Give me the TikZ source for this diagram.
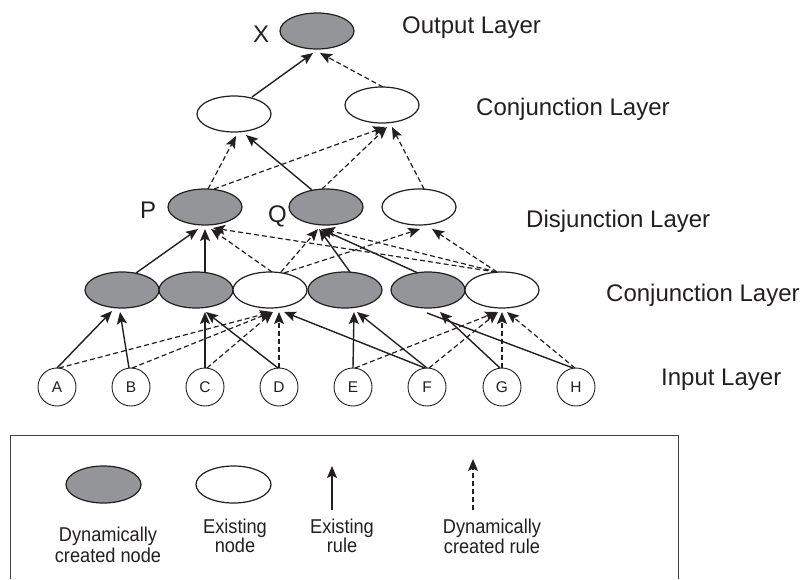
\documentclass[tikz,border=0pt]{standalone}
\usepackage{fontspec}
\setmainfont{Liberation Sans}
\newfontfamily\legendfont{Liberation Sans}[FakeStretch=0.91]
\usetikzlibrary{shapes.geometric,arrows.meta,calc}
\definecolor{ink}{RGB}{35,31,32}
\definecolor{nodegray}{RGB}{147,149,152}

\begin{document}
\begin{tikzpicture}[x=1pt,y=-1pt,
  ov/.style={ellipse,draw=ink,line width=1.2pt,minimum width=74pt,minimum height=36pt,inner sep=0pt},
  dyn/.style={ov,fill=nodegray},
  old/.style={ov,fill=white},
  inp/.style={circle,draw=ink,line width=0.9pt,minimum size=38pt,inner sep=0pt,
              font=\fontsize{15.5}{18}\selectfont,text=ink},
  tip/.style={-{Stealth[length=12pt,width=10pt,inset=2.5pt]}},
  oldrule/.style={draw=ink,line width=1.4pt,tip},
  newrule/.style={draw=ink,line width=1.2pt,dash pattern=on 5pt off 3pt,tip},
  plainrule/.style={draw=ink,line width=1.4pt},
  layer/.style={anchor=base west,font=\fontsize{24}{28}\selectfont,text=ink,inner sep=0pt},
  legtext/.style={anchor=base,font=\legendfont\fontsize{20}{24}\selectfont,text=ink,inner sep=0pt}
]
\useasboundingbox (0,0) rectangle (801,579);

% ---------- nodes ----------
\node[dyn] (X)  at (317,31)  {};
\node[old] (L1) at (234,114) {};
\node[old] (L2) at (382,105) {};
\node[dyn] (P)  at (205,207) {};
\node[dyn] (Q)  at (326,207) {};
\node[old] (R)  at (419,207) {};
\node[dyn] (C1) at (122,290) {};
\node[dyn] (C2) at (196,290) {};
\node[old] (C3) at (270,290) {};
\node[dyn] (C4) at (345,290) {};
\node[dyn] (C5) at (428,290) {};
\node[old] (C6) at (502,290) {};
\node[inp] (iA) at (57,387)  {A};
\node[inp] (iB) at (131,387) {B};
\node[inp] (iC) at (205,387) {C};
\node[inp] (iD) at (279,387) {D};
\node[inp] (iE) at (353,387) {E};
\node[inp] (iF) at (427,387) {F};
\node[inp] (iG) at (502,387) {G};
\node[inp] (iH) at (576,387) {H};

% ---------- node names and layer titles ----------
\node[layer] (nX) at (253,42)  {X};
\node[layer] (nP) at (140,218) {P};
\node[layer] (nQ) at (268,222) {Q};
\node[layer] (tOut)   at (402,33)  {Output Layer};
\node[layer] (tConjA) at (476,115) {Conjunction Layer};
\node[layer] (tDis)   at (526,227) {Disjunction Layer};
\node[layer] (tConjB) at (606,301) {Conjunction Layer};
\node[layer] (tIn)    at (661,385) {Input Layer};

% ---------- output layer rules ----------
\draw[oldrule] ($(L1)+(18,-17)$) -- ($(X)+(-4,22)$);
\draw[newrule] ($(L2)+(1,-18)$)  -- ($(X)+(3,22)$);

% ---------- upper conjunction layer rules ----------
\draw[newrule] ($(P)+(3,-18)$)   -- ($(L1)+(2,22)$);
\draw[oldrule] ($(Q)+(-14,-17)$) -- ($(L1)+(12,21)$);
\draw[newrule] ($(P)+(9,-18)$)   -- ($(L2)+(3,22)$);
\draw[newrule] ($(Q)+(-4,-18)$)  -- ($(L2)+(5,22)$);
\draw[newrule] ($(R)+(5,-18)$)   -- ($(L2)+(10,22)$);

% ---------- disjunction layer rules ----------
\draw[oldrule] ($(C1)+(14,-17)$) -- ($(P)+(-7,22)$);
\draw[oldrule] ($(C2)+(9,-18)$)  -- ($(P)+(0,22)$);
\draw[newrule] ($(C3)+(2,-18)$)  -- ($(P)+(6,22)$);
\draw[newrule] ($(C6)+(-6,-18)$) -- ($(P)+(8,21)$);
\draw[newrule] ($(C3)+(11,-18)$) -- ($(Q)+(-8,22)$);
\draw[oldrule] ($(C4)+(5,-18)$)  -- ($(Q)+(-7,22)$);
\draw[oldrule] ($(C5)+(-10,-17)$) -- ($(Q)+(-5,22)$);
\draw[newrule] ($(C6)+(-5,-18)$) -- ($(Q)+(-3,22)$);
\draw[newrule] ($(C3)+(14,-17)$) -- ($(R)+(1,22)$);
\draw[newrule] ($(C6)+(-5,-18)$) -- ($(R)+(13,22)$);

% ---------- lower conjunction layer rules ----------
\draw[oldrule] ($(iA)+(0,-19)$)  -- ($(C1)+(-10,21)$);
\draw[oldrule] ($(iB)+(-2,-19)$) -- ($(C1)+(-2,22)$);
\draw[newrule] ($(iA)+(2,-19)$)  -- ($(C3)+(2,22)$);
\draw[newrule] ($(iB)+(1,-19)$)  -- ($(C3)+(2,22)$);
\draw[oldrule] ($(iC)+(0,-19)$)  -- ($(C2)+(9,22)$);
\draw[oldrule] ($(iD)+(-1,-19)$) -- ($(C2)+(10,22)$);
\draw[newrule] ($(iC)+(2,-19)$)  -- ($(C3)+(3,22)$);
\draw[newrule] ($(iD)+(0,-19)$)  -- ($(C3)+(9,22)$);
\draw[oldrule] ($(iF)+(-2,-19)$) -- ($(C3)+(14,22)$);
\draw[oldrule] ($(iE)+(0,-19)$)  -- ($(C4)+(9,22)$);
\draw[oldrule] ($(iF)+(0,-19)$)  -- ($(C4)+(12,22)$);
\draw[newrule] ($(iE)+(2,-19)$)  -- ($(C6)+(-5,22)$);
\draw[newrule] ($(iF)+(2,-19)$)  -- ($(C6)+(-4,22)$);
\draw[oldrule] ($(iG)+(-2,-19)$) -- ($(C5)+(12,22)$);
\draw[plainrule] ($(iH)+(-3,-19)$) -- ($(C5)+(-1,23)$);
\draw[newrule] ($(iG)+(0,-19)$)  -- ($(C6)+(0,22)$);
\draw[newrule] ($(iH)+(-1,-19)$) -- ($(C6)+(5,22)$);

% ---------- legend ----------
\coordinate (frameBL) at (10.5,579);
\coordinate (frameTL) at (10.5,435);
\coordinate (frameTR) at (678,435);
\coordinate (frameBR) at (678,579);
\draw[draw=black!75,line width=0.9pt] (frameBL) -- (frameTL) -- (frameTR) -- (frameBR);

\node[dyn,minimum width=75pt,minimum height=37pt] (legDyn) at (103.5,484.5) {};
\node[old,minimum width=75pt,minimum height=37pt] (legOld) at (233.5,484.5) {};
\coordinate (legOldFoot) at (332,510);
\coordinate (legOldHead) at (332,466);
\draw[oldrule] (legOldFoot) -- (legOldHead);
\coordinate (legNewFoot) at (473,510);
\coordinate (legNewHead) at (473,459);
\draw[newrule] (legNewFoot) -- (legNewHead);

\node[legtext] (lgA1) at (108,541) {Dynamically};
\node[legtext] (lgA2) at (108,562) {created node};
\node[legtext] (lgB1) at (235,533) {Existing};
\node[legtext] (lgB2) at (235,552) {node};
\node[legtext] (lgC1) at (342,533) {Existing};
\node[legtext] (lgC2) at (342,552) {rule};
\node[legtext] (lgD1) at (492,533) {Dynamically};
\node[legtext] (lgD2) at (492,553) {created rule};
\end{tikzpicture}
\end{document}
